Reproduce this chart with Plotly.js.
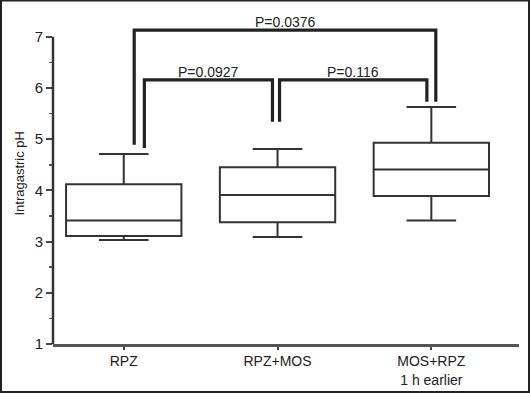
<!DOCTYPE html>
<html>
<head>
<meta charset="utf-8">
<script src="https://cdn.plot.ly/plotly-3.0.1.min.js"></script>
<style>html,body{margin:0;padding:0;background:#fff;}#chart{width:530px;height:393px;}</style>
</head>
<body>
<div id="chart"></div>
<script>
// Data
var categories = ["RPZ", "RPZ+MOS", "MOS+RPZ"];
var tickLabels = ["RPZ", "RPZ+MOS", "MOS+RPZ<br>1 h earlier"];
var lowerWhisker = [3.03, 3.09, 3.41];
var q1Values = [3.11, 3.38, 3.89];
var medianValues = [3.41, 3.91, 4.41];
var q3Values = [4.12, 4.45, 4.93];
var upperWhisker = [4.71, 4.81, 5.63];
// Significance comparisons: [from group index, to group index]
var compFrom = [0, 0, 1];
var compTo = [2, 1, 2];
var pLabels = ["P=0.0376", "P=0.0927", "P=0.116"];
var bracketLevel = [7.13, 6.16, 6.16];
var legBottomFrom = [4.89, 4.83, 5.34];
var legBottomTo = [5.73, 5.34, 5.73];

// layout-only offsets of the bracket legs relative to the group centre (category units)
var legOffsetFrom = [0.068, 0.134, 0.013];
var legOffsetTo = [0.029, -0.033, -0.029];

var ink = "#222";
var shapes = [];
var annotations = [];
for (var i = 0; i < pLabels.length; i++) {
  var xa = compFrom[i] + legOffsetFrom[i];
  var xb = compTo[i] + legOffsetTo[i];
  shapes.push({
    type: "path", xref: "x", yref: "y",
    path: "M " + xa + " " + legBottomFrom[i] + " L " + xa + " " + bracketLevel[i] +
          " L " + xb + " " + bracketLevel[i] + " L " + xb + " " + legBottomTo[i],
    line: {color: ink, width: 3.2}
  });
  annotations.push({
    xref: "x", yref: "y", x: (xa + xb) / 2, y: bracketLevel[i],
    text: pLabels[i], showarrow: false, yanchor: "bottom", yshift: -2,
    font: {family: "Liberation Sans, Arial, sans-serif", size: 14, color: ink}
  });
}
// y-axis line only from 1 to 7
shapes.push({type: "line", xref: "paper", yref: "y", x0: 0, x1: 0, y0: 1, y1: 7,
  line: {color: "#333", width: 2.5}});
// outer frame of the figure
shapes.push({type: "rect", xref: "paper", yref: "paper",
  x0: (1 - 53) / 466, x1: (529 - 53) / 466, y0: (344 - 392) / 320, y1: (344 - 0.5) / 320,
  line: {color: "#222", width: 2}});
annotations.push({
  xref: "paper", yref: "paper", x: -0.072, y: 0.534, textangle: -90,
  text: "Intragastric pH", showarrow: false, xanchor: "center", yanchor: "middle",
  font: {family: "Liberation Sans, Arial, sans-serif", size: 13, color: ink}
});

var trace = {
  type: "box",
  x: categories,
  lowerfence: lowerWhisker,
  q1: q1Values,
  median: medianValues,
  q3: q3Values,
  upperfence: upperWhisker,
  boxpoints: false,
  width: 0.75,
  whiskerwidth: 0.43,
  fillcolor: "rgba(255,255,255,0)",
  line: {color: "#333", width: 2},
  hoverinfo: "skip",
  showlegend: false
};

var layout = {
  width: 530, height: 393,
  margin: {l: 53, r: 11, t: 24, b: 49},
  paper_bgcolor: "#fff", plot_bgcolor: "#fff",
  showlegend: false,
  font: {family: "Liberation Sans, Arial, sans-serif", size: 14, color: ink},
  xaxis: {
    type: "category",
    range: [-0.46, 2.57],
    tickvals: categories, ticktext: tickLabels,
    showline: true, linecolor: "#555", linewidth: 2.5,
    ticks: "outside", ticklen: 3, tickwidth: 2, tickcolor: "#444",
    showgrid: false, zeroline: false,
    tickfont: {size: 14, color: ink}
  },
  yaxis: {
    range: [1, 7.25],
    tickvals: [1, 2, 3, 4, 5, 6, 7],
    showline: false, showgrid: false, zeroline: false,
    ticks: "outside", ticklen: 6, tickwidth: 2, tickcolor: "#444",
    minor: {tickvals: [1.5, 2.5, 3.5, 4.5, 5.5, 6.5], ticks: "outside", ticklen: 3, tickwidth: 1.5, tickcolor: "#555", showgrid: false},
    tickfont: {size: 15, color: ink}
  },
  shapes: shapes,
  annotations: annotations
};

Plotly.newPlot("chart", [trace], layout, {displayModeBar: false, staticPlot: true});
</script>
</body>
</html>
